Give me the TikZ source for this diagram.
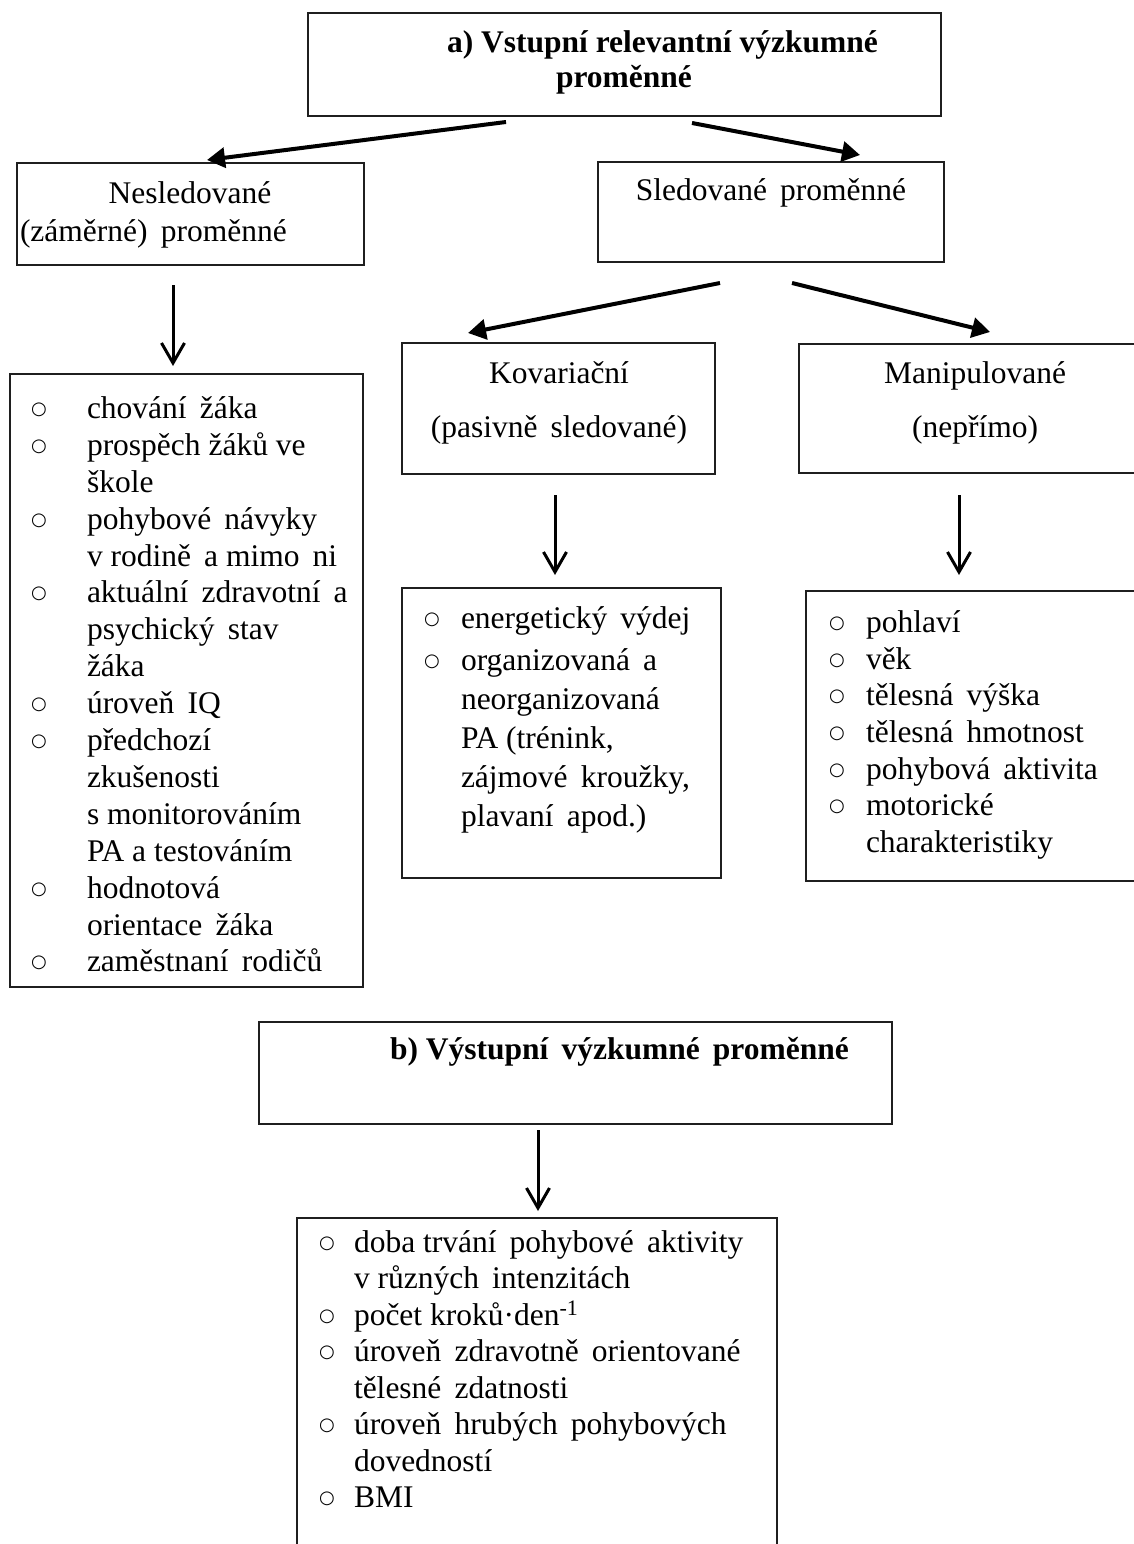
\documentclass[tikz,border=0pt]{standalone}
\usepackage{fontspec}
\setmainfont{Liberation Serif}
\newfontfamily\bulletfont{DejaVu Sans}
\usetikzlibrary{arrows.meta}
\begin{document}
\begin{tikzpicture}[x=1pt,y=-1pt,
  box/.style={draw=black!88, line width=2pt, inner sep=0pt, outer sep=0pt, anchor=north west},
  txt/.style={inner sep=0pt, outer sep=0pt, font=\fontsize{31.5}{37}\selectfont},
  head/.style={txt, font=\fontsize{31.5}{37}\selectfont\bfseries},
  item/.style={txt, anchor=base west},
  bul/.style={inner sep=0pt, outer sep=0pt, anchor=base, yshift=4pt, font=\fontsize{18}{22}\bulletfont},
  diag/.style={line width=4pt, -{Triangle[length=18pt,width=20pt]}},
  vert/.style={line width=3pt, -{Straight Barb[length=20pt,width=23pt,line width=3pt]}}
]
\path[use as bounding box] (0,0) rectangle (1134,1544);
\clip (0,0) rectangle (1134,1544);
\fill[white] (0,0) rectangle (1134,1544);

% ---- boxes ----
\node[box, minimum width=633pt, minimum height=103pt] (top) at (308,13) {};
\node[box, minimum width=347pt, minimum height=102pt] (nes) at (17,163) {};
\node[box, minimum width=346pt, minimum height=100pt] (sle) at (598,162) {};
\node[box, minimum width=313pt, minimum height=131pt] (kov) at (402,343) {};
\node[box, minimum width=352pt, minimum height=129pt] (man) at (799,344) {};
\node[box, minimum width=353pt, minimum height=613pt] (nesl) at (10,374) {};
\node[box, minimum width=319pt, minimum height=290pt] (kovl) at (402,588) {};
\node[box, minimum width=354pt, minimum height=290pt] (manl) at (806,591) {};
\node[box, minimum width=633pt, minimum height=102pt] (out) at (259,1022) {};
\node[box, minimum width=480pt, minimum height=342pt] (outl) at (297,1218) {};

% ---- box titles ----
\node[head, anchor=base west] (t1) at (447,53) {a) Vstupní relevantní výzkumné};
\node[head, anchor=base] (t2) at (624,88) {proměnné};
\node[txt, anchor=base] (n1) at (190,203) {Nesledované};
\node[txt, anchor=base west] (n2) at (20,241) {(záměrné)\, proměnné};
\node[txt, anchor=base] (s1) at (771,200) {Sledované\, proměnné};
\node[txt, anchor=base] (k1) at (559,383) {Kovariační};
\node[txt, anchor=base] (k2) at (559,437) {(pasivně\, sledované)};
\node[txt, anchor=base] (m1) at (975,383) {Manipulované};
\node[txt, anchor=base] (m2) at (975,437) {(nepřímo)};
\node[head, anchor=base west] (o1) at (390,1059) {b) Výstupní\, výzkumné\, proměnné};

% ---- list of unobserved variables ----
\node[bul] (lb1) at (39,418) {○};
\node[item] (l1) at (87,418) {chování\, žáka};
\node[bul] (lb2) at (39,455) {○};
\node[item] (l2) at (87,455) {prospěch žáků ve};
\node[item] (l3) at (87,492) {škole};
\node[bul] (lb4) at (39,529) {○};
\node[item] (l4) at (87,529) {pohybové\, návyky};
\node[item] (l5) at (87,566) {v rodině\, a mimo\, ni};
\node[bul] (lb6) at (39,602) {○};
\node[item] (l6) at (87,602) {aktuální\, zdravotní\, a};
\node[item] (l7) at (87,639) {psychický\, stav};
\node[item] (l8) at (87,676) {žáka};
\node[bul] (lb9) at (39,713) {○};
\node[item] (l9) at (87,713) {úroveň\, IQ};
\node[bul] (lb10) at (39,750) {○};
\node[item] (l10) at (87,750) {předchozí};
\node[item] (l11) at (87,787) {zkušenosti};
\node[item] (l12) at (87,824) {s monitorováním};
\node[item] (l13) at (87,861) {PA a testováním};
\node[bul] (lb14) at (39,898) {○};
\node[item] (l14) at (87,898) {hodnotová};
\node[item] (l15) at (87,935) {orientace\, žáka};
\node[bul] (lb16) at (39,971) {○};
\node[item] (l16) at (87,971) {zaměstnaní\, rodičů};

% ---- covariate list ----
\node[bul] (kb1) at (432,628) {○};
\node[item] (kl1) at (461,628) {energetický\, výdej};
\node[bul] (kb2) at (432,670) {○};
\node[item] (kl2) at (461,670) {organizovaná\, a};
\node[item] (kl3) at (461,709) {neorganizovaná};
\node[item] (kl4) at (461,748) {PA (trénink,};
\node[item] (kl5) at (461,787) {zájmové\, kroužky,};
\node[item] (kl6) at (461,826) {plavaní\, apod.)};

% ---- manipulated list ----
\node[bul] (mb1) at (837,632) {○};
\node[item] (ml1) at (866,632) {pohlaví};
\node[bul] (mb2) at (837,669) {○};
\node[item] (ml2) at (866,669) {věk};
\node[bul] (mb3) at (837,705) {○};
\node[item] (ml3) at (866,705) {tělesná\, výška};
\node[bul] (mb4) at (837,742) {○};
\node[item] (ml4) at (866,742) {tělesná\, hmotnost};
\node[bul] (mb5) at (837,779) {○};
\node[item] (ml5) at (866,779) {pohybová\, aktivita};
\node[bul] (mb6) at (837,815) {○};
\node[item] (ml6) at (866,815) {motorické};
\node[item] (ml7) at (866,852) {charakteristiky};

% ---- output list ----
\node[bul] (ob1) at (327,1252) {○};
\node[item] (ol1) at (354,1252) {doba trvání\, pohybové\, aktivity};
\node[item] (ol2) at (354,1288) {v různých\, intenzitách};
\node[bul] (ob3) at (327,1325) {○};
\node[item] (ol3) at (354,1325) {počet kroků·den\textsuperscript{-1}};
\node[bul] (ob4) at (327,1361) {○};
\node[item] (ol4) at (354,1361) {úroveň\, zdravotně\, orientované};
\node[item] (ol5) at (354,1398) {tělesné\, zdatnosti};
\node[bul] (ob6) at (327,1434) {○};
\node[item] (ol6) at (354,1434) {úroveň\, hrubých\, pohybových};
\node[item] (ol7) at (354,1471) {dovedností};
\node[bul] (ob8) at (327,1507) {○};
\node[item] (ol8) at (354,1507) {BMI};

% ---- connectors ----
\draw[diag] ([xshift=198pt,yshift=-6pt]top.south west) -- ([xshift=190pt,yshift=3pt]nes.north west);
\draw[diag] ([xshift=384pt,yshift=-7pt]top.south west) -- ([xshift=262pt,yshift=7pt]sle.north west);
\draw[diag] ([xshift=122pt,yshift=-21pt]sle.south west) -- ([xshift=66pt,yshift=10pt]kov.north west);
\draw[diag] ([xshift=194pt,yshift=-21pt]sle.south west) -- ([xshift=191pt,yshift=12pt]man.north west);
\draw[vert] ([xshift=156pt,yshift=-20pt]nes.south west) -- ([xshift=163pt,yshift=8pt]nesl.north west);
\draw[vert] ([xshift=153pt,yshift=-21pt]kov.south west) -- ([xshift=153pt,yshift=13pt]kovl.north west);
\draw[vert] ([xshift=160pt,yshift=-22pt]man.south west) -- ([xshift=153pt,yshift=16pt]manl.north west);
\draw[vert] ([xshift=279pt,yshift=-6pt]out.south west) -- ([xshift=241pt,yshift=7pt]outl.north west);
\end{tikzpicture}
\end{document}
